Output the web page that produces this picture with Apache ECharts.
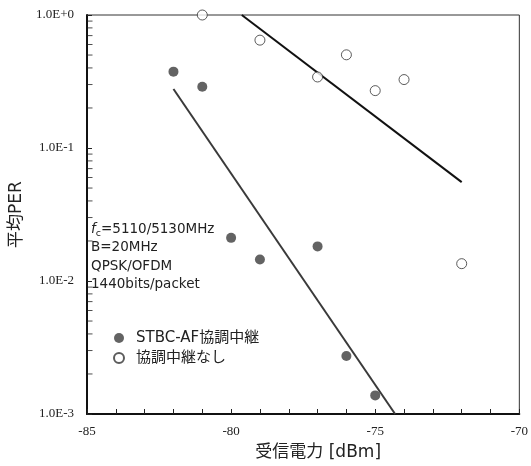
<!DOCTYPE html>
<html>
<head>
<meta charset="utf-8">
<script src="https://cdn.jsdelivr.net/npm/echarts@6/dist/echarts.min.js"></script>
<style>
  * { margin: 0; padding: 0; }
  body { background: #fff; }
  #main { width: 531px; height: 466px; }
</style>
</head>
<body>
<div id="main"></div>
<script>
  // 受信電力 [dBm]
  var stbcX = [-82, -81, -80, -79, -77, -76, -75];
  var stbcPER = [0.375, 0.289, 0.0211, 0.0145, 0.0182, 0.00273, 0.00138];
  var noCoopX = [-81, -79, -77, -76, -75, -74, -72];
  var noCoopPER = [1.0, 0.647, 0.342, 0.502, 0.270, 0.327, 0.0135];

  // 近似直線 (端点)
  var stbcFitX = [-82.0, -74.31];
  var stbcFitPER = [0.278, 0.001];
  var noCoopFitX = [-79.63, -72.0];
  var noCoopFitPER = [1.0, 0.0554];

  // 目盛
  var xLabels = [-85, -80, -75, -70];
  var yMinorTicks = [0.002, 0.003, 0.004, 0.005, 0.006, 0.007, 0.008, 0.009,
                     0.02, 0.03, 0.04, 0.05, 0.06, 0.07, 0.08, 0.09,
                     0.2, 0.3, 0.4, 0.5, 0.6, 0.7, 0.8, 0.9];

  function pairs(xs, ys) {
    return xs.map(function (x, i) { return [x, ys[i]]; });
  }

  var sans = '"DejaVu Sans", "Noto Sans CJK JP", sans-serif';
  var serif = '"Liberation Serif", "DejaVu Serif", serif';

  var chart = echarts.init(document.getElementById('main'));
  chart.setOption({
    animation: false,
    backgroundColor: '#fff',
    grid: {
      left: 86, right: 10, top: 15, bottom: 49,
      show: true, borderColor: '#333', borderWidth: 1
    },
    legend: {
      orient: 'vertical',
      left: 108, top: 325,
      itemWidth: 10, itemHeight: 10, itemGap: 4,
      data: ['STBC-AF協調中継', '協調中継なし'],
      textStyle: { fontFamily: sans, fontSize: 15, color: '#222', lineHeight: 16, padding: [0, 0, 0, 7] }
    },
    graphic: [{
      type: 'text',
      left: 91, top: 221,
      style: {
        text: '{i|f}{s|c}{n|=5110/5130MHz}\n{n|B=20MHz}\n{n|QPSK/OFDM}\n{n|1440bits/packet}',
        fill: '#222',
        rich: {
          n: { fontFamily: sans, fontSize: 13.5, lineHeight: 18.5, fill: '#222' },
          i: { fontFamily: sans, fontSize: 13.5, fontStyle: 'italic', lineHeight: 18.5, fill: '#222' },
          s: { fontFamily: sans, fontSize: 9.5, lineHeight: 18.5, verticalAlign: 'bottom', padding: [8, 0, 0, 0], fill: '#222' }
        }
      }
    }],
    xAxis: {
      type: 'value',
      min: -85, max: -70, interval: 1,
      name: '受信電力 [dBm]',
      nameLocation: 'middle',
      nameGap: 30,
      nameTextStyle: { fontFamily: sans, fontSize: 17, color: '#222', padding: [0, 0, 0, 30] },
      axisLine: { lineStyle: { color: '#111', width: 2 } },
      axisTick: { show: true, inside: true, length: 5, lineStyle: { color: '#222', width: 1 } },
      axisLabel: {
        fontFamily: serif, fontSize: 13, color: '#222', margin: 11,
        formatter: function (v) { return xLabels.indexOf(v) >= 0 ? String(v) : ''; }
      },
      splitLine: { show: false }
    },
    yAxis: {
      type: 'log',
      min: 0.001, max: 1,
      name: '平均PER',
      nameLocation: 'middle',
      nameGap: 62,
      nameTextStyle: { fontFamily: sans, fontSize: 17, color: '#222' },
      axisLine: { lineStyle: { color: '#111', width: 2 } },
      axisTick: { show: true, inside: true, length: 5, lineStyle: { color: '#222', width: 1 } },
      axisLabel: {
        fontFamily: serif, fontSize: 13, color: '#222', margin: 13,
        formatter: function (v) { return v.toExponential(1).toUpperCase(); }
      },
      splitLine: { show: false }
    },
    series: [
      {
        name: 'STBC-AF協調中継',
        type: 'scatter',
        data: pairs(stbcX, stbcPER),
        symbol: 'circle', symbolSize: 10,
        clip: false,
        itemStyle: { color: '#3c3c3c' },
        z: 3
      },
      {
        name: '協調中継なし',
        type: 'scatter',
        data: pairs(noCoopX, noCoopPER),
        symbol: 'circle', symbolSize: 10,
        clip: false,
        itemStyle: { color: '#fff', borderColor: '#333', borderWidth: 1 },
        z: 3
      },
      {
        name: 'fit1',
        type: 'line',
        data: pairs(stbcFitX, stbcFitPER),
        showSymbol: false, symbol: 'none',
        lineStyle: { color: '#3a3a3a', width: 2 },
        z: 2
      },
      {
        name: 'fit2',
        type: 'line',
        data: pairs(noCoopFitX, noCoopFitPER),
        showSymbol: false, symbol: 'none',
        lineStyle: { color: '#111', width: 2 },
        z: 2
      },
      {
        // 対数軸の補助目盛 (2〜9)
        name: 'minorTicks',
        type: 'scatter',
        data: yMinorTicks.map(function (v) { return [-85, v]; }),
        symbol: 'rect', symbolSize: [5, 1], symbolOffset: [3, 0],
        clip: false, silent: true,
        itemStyle: { color: '#222' },
        z: 4
      }
    ]
  });
</script>
</body>
</html>
